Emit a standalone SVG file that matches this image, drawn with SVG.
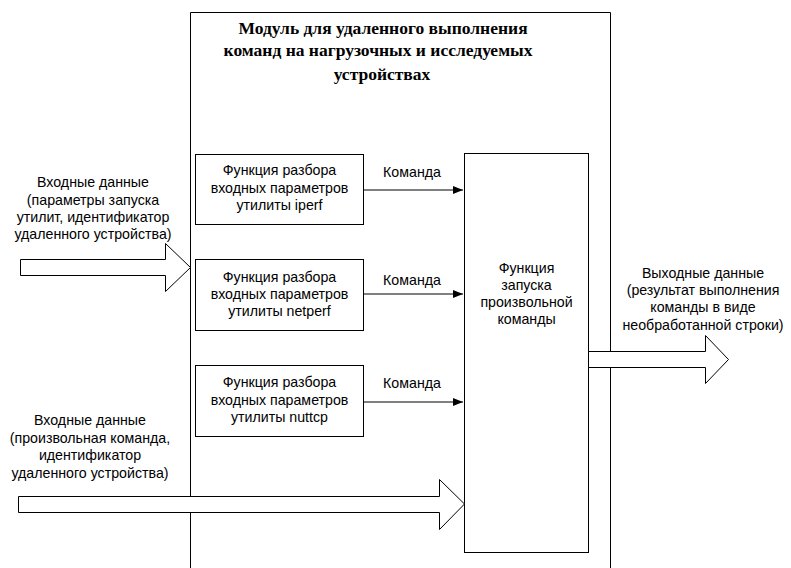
<svg xmlns="http://www.w3.org/2000/svg" width="791" height="568" viewBox="0 0 791 568">
<defs>
<marker id="ah" markerWidth="10" markerHeight="8" refX="10" refY="4" orient="auto" markerUnits="userSpaceOnUse">
<path d="M0,0 L10,4 L0,8 Z" fill="#000"/>
</marker>
</defs>
<style>
.box{fill:#fff;stroke:#000;stroke-width:1}
.t{font-family:"Liberation Sans",Arial,sans-serif;font-size:14.2px;fill:#000;text-anchor:middle}
.title{font-family:"Liberation Serif","Times New Roman",serif;font-size:17.5px;font-weight:bold;fill:#000;text-anchor:middle}
.conn{stroke:#000;stroke-width:1;fill:none}
.big{fill:#fff;stroke:#000;stroke-width:1}
</style>
<rect width="791" height="568" fill="#fff"/>
<g id="module">
<path class="conn" d="M190.5,568 V12.5 H610.5 V568"/>
<text class="title" x="383" y="34">Модуль для удаленного выполнения</text>
<text class="title" x="378" y="56">команд на нагрузочных и исследуемых</text>
<text class="title" x="382" y="80">устройствах</text>
</g>
<g id="parse-iperf">
<rect class="box" x="195.5" y="154.5" width="168" height="70"/>
<text class="t" x="279.5" y="175">Функция разбора</text>
<text class="t" x="279.5" y="193">входных параметров</text>
<text class="t" x="279.5" y="210">утилиты iperf</text>
</g>
<g id="parse-netperf">
<rect class="box" x="195.5" y="259.5" width="168" height="71"/>
<text class="t" x="279.5" y="282">Функция разбора</text>
<text class="t" x="279.5" y="299">входных параметров</text>
<text class="t" x="279.5" y="316">утилиты netperf</text>
</g>
<g id="parse-nuttcp">
<rect class="box" x="195.5" y="365.5" width="168" height="71"/>
<text class="t" x="279.5" y="387">Функция разбора</text>
<text class="t" x="279.5" y="405">входных параметров</text>
<text class="t" x="279.5" y="422">утилиты nuttcp</text>
</g>
<g id="launcher">
<rect class="box" x="464.5" y="153.5" width="124" height="399"/>
<text class="t" x="526.5" y="273">Функция</text>
<text class="t" x="526.5" y="290">запуска</text>
<text class="t" x="526.5" y="307">произвольной</text>
<text class="t" x="526.5" y="324">команды</text>
</g>
<g id="input1-label">
<text class="t" x="93" y="187">Входные данные</text>
<text class="t" x="93" y="205">(параметры запуска</text>
<text class="t" x="93" y="222">утилит, идентификатор</text>
<text class="t" x="93" y="239">удаленного устройства)</text>
</g>
<g id="input2-label">
<text class="t" x="90" y="425">Входные данные</text>
<text class="t" x="90" y="443">(произвольная команда,</text>
<text class="t" x="90" y="460">идентификатор</text>
<text class="t" x="90" y="478">удаленного устройства)</text>
</g>
<g id="output-label">
<text class="t" x="703" y="278">Выходные данные</text>
<text class="t" x="703" y="295">(результат выполнения</text>
<text class="t" x="703" y="312">команды в виде</text>
<text class="t" x="703" y="330">необработанной строки)</text>
</g>
<g id="connectors">
<line class="conn" x1="364" y1="190" x2="463" y2="190" marker-end="url(#ah)"/>
<line class="conn" x1="364" y1="294" x2="463" y2="294" marker-end="url(#ah)"/>
<line class="conn" x1="364" y1="402" x2="463" y2="402" marker-end="url(#ah)"/>
<text class="t" x="412" y="177">Команда</text>
<text class="t" x="412" y="285">Команда</text>
<text class="t" x="412" y="388">Команда</text>
<path class="big" d="M20.5,259.5 H165.5 V243.5 L190.5,267.5 L165.5,291.5 V275.5 H20.5 Z"/>
<path class="big" d="M18.5,496.5 H439.5 V479.5 L464.5,504 L439.5,529.5 V512.5 H18.5 Z"/>
<path class="big" d="M588.5,351.5 H705.5 V335.5 L728.5,359.5 L705.5,383.5 V367.5 H588.5 Z"/>
</g>
</svg>
